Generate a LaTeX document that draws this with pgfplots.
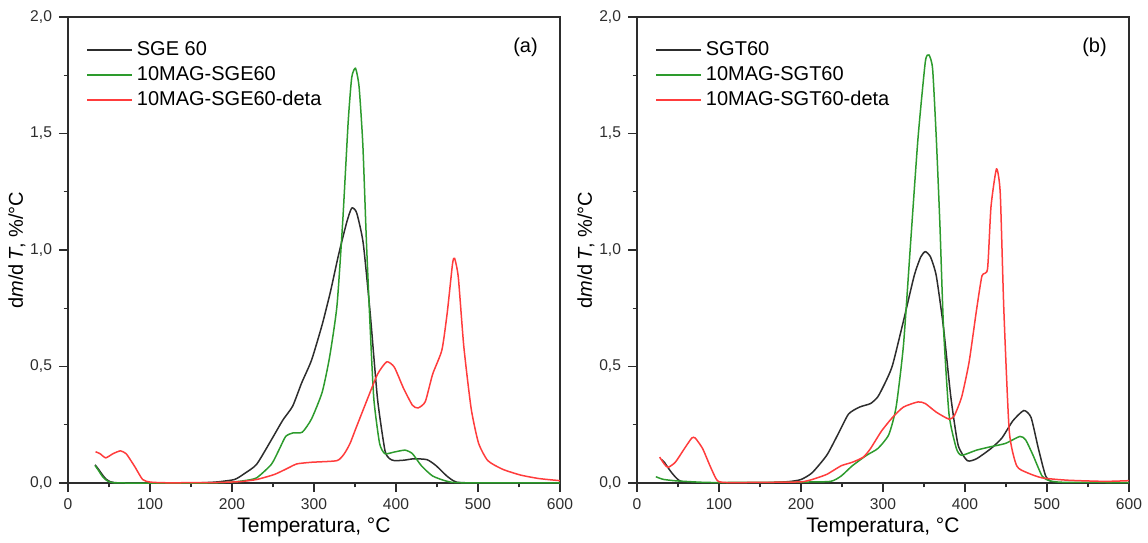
\documentclass[border=0pt]{standalone}
\usepackage{pgfplots}
\pgfplotsset{compat=1.18}
\usepackage{fontspec}
\setmainfont{Liberation Sans}
\definecolor{cblack}{RGB}{45,45,45}
\definecolor{cgreen}{RGB}{45,155,45}
\definecolor{cred}{RGB}{255,60,60}
\pgfplotsset{
  panel/.style={
    scale only axis, width=246pt, height=233pt,
    xmin=0, xmax=600, ymin=0, ymax=2,
    xtick={0,100,...,600}, ytick={0,0.5,...,2},
    minor x tick num=1, minor y tick num=1,
    tick align=outside, xtick pos=bottom, ytick pos=left,
    major tick length=4.5pt, minor tick length=2.2pt,
    axis line style={cblack, line width=0.9pt},
    every tick/.style={cblack, line width=0.7pt},
    /pgf/number format/assume math mode=true,
    yticklabel style={/pgf/number format/.cd, fixed, fixed zerofill, precision=1, use comma},
    tick label style={font=\fontsize{7.8}{9}\selectfont, text=cblack},
    xlabel style={font=\fontsize{10.5}{12}\selectfont, yshift=3pt},
    ylabel style={font=\fontsize{10}{12}\selectfont, yshift=-4.5pt},
    xlabel={Temperatura, °C},
    ylabel={d\textit{m}/d\,\textit{T}, \%/°C},
    legend style={draw=none, fill=none, at={(axis description cs:0,1)}, anchor=north west,
      xshift=6pt, yshift=-8pt, font=\fontsize{10}{12}\selectfont, row sep=0pt, cells={anchor=west}},
    legend cell align=left,
    legend image code/.code={\draw[#1] (0pt,0pt) -- (22.5pt,0pt);},
    every axis plot/.append style={line width=0.75pt, smooth, tension=0.35},
  }
}
\begin{document}
\begin{tikzpicture}
\path[use as bounding box] (0,0) rectangle (574pt,271pt);
\begin{axis}[panel, at={(34pt,29.5pt)}, anchor=south west]
\addplot[cblack] coordinates {
(33,0.078) (37,0.06) (41.6,0.037) (46,0.018) (50.6,0.007) (56,0.002) (70,0) (150,0) (180,0.004) (203,0.015) (215,0.04) (230,0.08) (248,0.185) (262,0.27) (274,0.33) (285,0.43) (297,0.527) (310,0.68) (320,0.82) (330,0.98) (340,1.12) (346,1.18) (352,1.16) (360,1.03) (368.5,0.73) (377.5,0.36) (386.5,0.14) (392,0.105) (398,0.096) (410,0.098) (422,0.104) (438,0.1) (449,0.074) (462,0.03) (471.5,0.007) (485,0.001) (600,0)};
\addlegendentry{SGE 60}
\addplot[cgreen] coordinates {
(33,0.075) (37,0.055) (41.6,0.03) (46,0.014) (50.6,0.005) (56,0.001) (70,0) (170,0) (200,0.004) (215,0.01) (230,0.022) (248,0.08) (257,0.14) (265.5,0.2) (274.5,0.215) (285.7,0.218) (297,0.275) (310,0.39) (319,0.54) (328,0.76) (335,1.12) (341.7,1.55) (346,1.74) (350.6,1.78) (355,1.70) (359.6,1.45) (364,1.03) (368.6,0.66) (373,0.36) (380,0.17) (386.5,0.126) (398,0.133) (411,0.141) (420,0.126) (431,0.074) (444.7,0.03) (462.6,0.007) (480,0.001) (600,0)};
\addlegendentry{10MAG-SGE60}
\addplot[cred] coordinates {
(33.6,0.134) (39,0.126) (46,0.108) (55,0.126) (64,0.138) (70.8,0.126) (76,0.1) (82,0.067) (91,0.015) (100,0.004) (120,0.001) (180,0.002) (210,0.006) (230,0.015) (252,0.037) (270,0.067) (279,0.082) (297,0.089) (328,0.096) (337,0.126) (344,0.17) (350.6,0.23) (364,0.35) (377.5,0.467) (388.7,0.52) (398,0.497) (409,0.408) (420,0.334) (426.8,0.322) (435.7,0.349) (444.7,0.467) (456,0.571) (462.6,0.734) (469,0.942) (471.5,0.964) (476,0.883) (482.7,0.586) (491.7,0.319) (500.7,0.171) (512,0.096) (530,0.059) (552,0.034) (574.6,0.019) (600,0.01)};
\addlegendentry{10MAG-SGE60-deta}
\node[font=\fontsize{10}{12}\selectfont] at (axis description cs:0.93,0.935) {(a)};
\end{axis}
\begin{axis}[panel, at={(318.5pt,29.5pt)}, anchor=south west]
\addplot[cblack] coordinates {
(30,0.1) (33.4,0.089) (38,0.065) (42.3,0.044) (47,0.025) (51,0.012) (56,0.004) (65,0) (150,0) (185,0.006) (200,0.015) (213.6,0.044) (231.4,0.119) (244.8,0.207) (258,0.296) (271.5,0.326) (284.8,0.341) (293.7,0.37) (302.6,0.43) (311.5,0.504) (325,0.696) (338,0.889) (346,0.97) (351.6,0.993) (358,0.97) (365,0.889) (373.8,0.667) (382.7,0.37) (391.6,0.163) (402.8,0.096) (414,0.104) (431.7,0.148) (445,0.193) (458.4,0.267) (471.7,0.311) (480.6,0.281) (489.5,0.148) (498.4,0.03) (507,0.003) (520,0) (600,0)};
\addlegendentry{SGT60}
\addplot[cgreen] coordinates {
(23,0.027) (28,0.02) (33,0.015) (45,0.01) (58,0.007) (80,0.003) (100,0.002) (200,0.004) (236,0.007) (249,0.03) (262.6,0.074) (280,0.119) (293.7,0.148) (307,0.207) (316,0.326) (325,0.593) (333.8,1.037) (342.7,1.48) (351.6,1.807) (356,1.837) (360.5,1.778) (365,1.48) (369.4,1.11) (373.8,0.667) (380.5,0.296) (389.5,0.148) (396,0.119) (414,0.141) (431.7,0.156) (449.4,0.17) (467,0.2) (474,0.185) (483,0.119) (494,0.03) (503,0.01) (520,0.003) (600,0.002)};
\addlegendentry{10MAG-SGT60}
\addplot[cred] coordinates {
(27.6,0.111) (33.4,0.081) (37.8,0.067) (46.7,0.089) (57.9,0.148) (66.8,0.193) (71,0.193) (80,0.148) (89,0.074) (98,0.01) (110,0.002) (160,0.003) (200,0.005) (213.6,0.015) (231.4,0.037) (249,0.074) (262.6,0.089) (276,0.111) (284.8,0.148) (298,0.222) (311.5,0.281) (325,0.326) (342.7,0.348) (351.6,0.341) (365,0.304) (380.5,0.274) (387,0.289) (396,0.37) (405,0.519) (414,0.741) (420.7,0.889) (427.5,0.919) (431.7,1.185) (438.4,1.348) (443,1.244) (447.4,0.741) (454,0.222) (463,0.074) (476,0.044) (494,0.022) (525,0.012) (570,0.007) (600,0.01)};
\addlegendentry{10MAG-SGT60-deta}
\node[font=\fontsize{10}{12}\selectfont] at (axis description cs:0.93,0.935) {(b)};
\end{axis}
\end{tikzpicture}
\end{document}
